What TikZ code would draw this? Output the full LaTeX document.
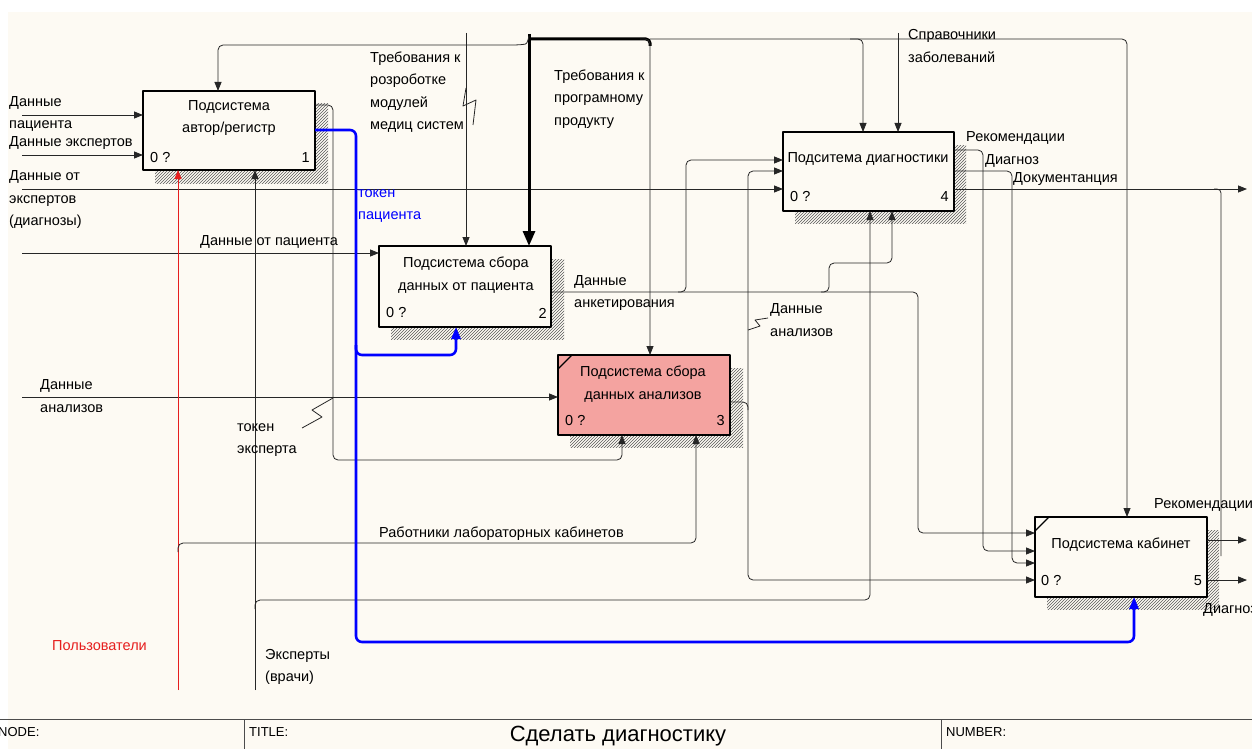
\documentclass[tikz,border=0pt]{standalone}
\usepackage{fontspec}
\setmainfont{Liberation Sans}
\usetikzlibrary{arrows.meta,patterns}
\definecolor{bgc}{RGB}{253,250,243}
\definecolor{pinkc}{RGB}{244,163,160}
\definecolor{bluec}{RGB}{0,0,255}
\definecolor{redc}{RGB}{230,30,30}
\newcommand\labfont{\fontsize{14.5}{22.5}\selectfont}
\newcommand\footfont{\fontsize{13}{15}\selectfont}
\begin{document}
\begin{tikzpicture}[x=1pt,y=-1pt,line join=round,
  ln/.style={line width=0.8pt,draw=black!85},
  arr/.style={-{Triangle[length=9pt,width=7pt]}},
  bluearr/.style={draw=bluec,line width=2.6pt,-{Triangle[length=12pt,width=9pt]},rounded corners=6},
  box/.style={draw=black,line width=1.8pt,fill=bgc,inner sep=0pt,outer sep=0pt,anchor=north west,minimum width=172pt,minimum height=79pt},
  shadow/.style={pattern=north east lines,pattern color=black!65},
  lab/.style={font=\labfont,inner sep=0pt,anchor=west,align=left},
  btxt/.style={font=\labfont,inner sep=0pt,align=center},
  foot/.style={font=\footfont,inner sep=0pt,anchor=west}]
\useasboundingbox (0,0) rectangle (1252,749);
\fill[white] (0,0) rectangle (1252,749);
\fill[bgc] (8,12) rectangle (1252,749);
% shadows
\fill[shadow] (155,104) rectangle (328,183);
\fill[shadow] (391,259) rectangle (564,339);
\fill[shadow] (570,368) rectangle (743,447);
\fill[shadow] (795,145) rectangle (966,223);
\fill[shadow] (1047,530) rectangle (1219,609);
% boxes
\node[box] (b1) at (143,91) {};
\node[box,minimum height=81pt] (b2) at (379,246) {};
\node[box,fill=pinkc,minimum height=80pt] (b3) at (558,355) {};
\node[box,minimum width=171pt] (b4) at (783,132) {};
\node[box,minimum height=80pt] (b5) at (1035,517) {};
\draw[line width=1.2pt] (558,369) -- (572,355);
\draw[line width=1.2pt] (1035,531) -- (1049,517);
% box texts
\node[btxt] (t1) at (229,118) {Подсистема\\автор/регистр};
\node[lab] (n1) at (150,158) {0 ?};
\node[lab,anchor=east] (m1) at (310,158) {1};
\node[btxt] (t2) at (466,275) {Подсистема сбора\\данных от пациента};
\node[lab] (n2) at (386,313) {0 ?};
\node[lab,anchor=east] (m2) at (547,313) {2};
\node[btxt] (t3) at (643,384) {Подсистема сбора\\данных анализов};
\node[lab] (n3) at (565,421) {0 ?};
\node[lab,anchor=east] (m3) at (725,421) {3};
\node[btxt] (t4) at (868,159) {Подситема диагностики};
\node[lab] (n4) at (790,197) {0 ?};
\node[lab,anchor=east] (m4) at (949,197) {4};
\node[btxt] (t5) at (1121,545) {Подсистема кабинет};
\node[lab] (n5) at (1041,581) {0 ?};
\node[lab,anchor=east] (m5) at (1202,581) {5};
% left inputs
\draw[ln,arr] (22,115) -- (143,115);
\draw[ln,arr] (22,155) -- (143,155);
\draw[ln,arr] (22,189) -- (783,189);
\draw[ln,arr] (954,189) -- (1247,189);
\draw[ln,rounded corners=4] (1214,189) -- (1221,189) -- (1221,556);
\draw[ln,arr] (22,253) -- (379,253);
\draw[ln,arr] (22,397) -- (558,397);
% top controls
\draw[line width=3pt,-{Triangle[length=15pt,width=12pt]}] (529,34) -- (529,246);
\draw[line width=3pt,rounded corners=4] (529,39) -- (650,39) -- (650,46);
\draw[ln,arr,rounded corners=5] (640,39) -- (650,39) -- (650,355);
\draw[ln,arr,rounded corners=5] (650,39) -- (1127,39) -- (1127,517);
\draw[ln,arr,rounded corners=5] (850,39) -- (863,39) -- (863,132);
\draw[ln,arr,rounded corners=5] (529,36) .. controls (527,44) .. (518,45) -- (218,45) -- (218,91);
\draw[ln,arr] (466,33) -- (466,246);
\draw[ln,arr] (898,33) -- (898,132);
% mechanisms
\draw[redc,line width=0.8pt,-{Triangle[length=9pt,width=7pt]}] (178,690) -- (178,170);
\draw[ln,arr,rounded corners=5] (178,552) -- (178,543) -- (696,543) -- (696,435);
\draw[ln,arr] (255,690) -- (255,170);
\draw[ln,arr,rounded corners=5] (255,609) -- (255,600) -- (870,600) -- (870,211);
% token expert
\draw[ln,arr,rounded corners=5] (315,105) -- (333,105) -- (333,460) -- (622,460) -- (622,435);
% blue token
\draw[bluearr] (315,130) -- (356,130) -- (356,642) -- (1134,642) -- (1134,597);
\draw[bluearr] (356,345) -- (356,355) -- (456,355) -- (456,327);
% box2 output
\draw[ln,arr,rounded corners=5] (552,292) -- (918,292) -- (918,533) -- (1035,533);
\draw[ln,arr,rounded corners=5] (678,292) -- (686,292) -- (686,160) -- (783,160);
\draw[ln,arr,rounded corners=5] (821,292) -- (829,292) -- (829,263) -- (892,263) -- (892,211);
% box3 output
\draw[ln,{Triangle[length=9pt,width=7pt]}-{Triangle[length=9pt,width=7pt]},rounded corners=5] (783,171) -- (748,171) -- (748,580) -- (1035,580);
\draw[ln,rounded corners=5] (730,402) -- (748,402) -- (748,410);
% box4 outputs
\draw[ln,arr,rounded corners=5] (954,150) -- (983,150) -- (983,551) -- (1035,551);
\draw[ln,arr,rounded corners=5] (954,171) -- (1012,171) -- (1012,563) -- (1035,563);
% box5 outputs
\draw[ln,arr] (1207,540) -- (1247,540);
\draw[ln,arr] (1207,580) -- (1247,580);
% squiggles
\draw[ln] (302,428) -- (322,417) -- (312,410) -- (333,398);
\draw[ln] (768,318) -- (755,320) -- (760,326) -- (748,330);
\draw[ln] (466,88) -- (463,106) -- (476,100) -- (473,125);
% labels
\node[lab] (l1) at (9,114) {Данные\\пациента};
\node[lab] (l2) at (9,143) {Данные экспертов};
\node[lab] (l3) at (9,200) {Данные от\\экспертов\\(диагнозы)};
\node[lab] (l4) at (200,242) {Данные от пациента};
\node[lab] (l5) at (40,396) {Данные\\анализов};
\node[lab] (l6) at (370,92) {Требования к\\розроботке\\модулей\\медиц систем};
\node[lab] (l7) at (554,99) {Требования к\\програмному\\продукту};
\node[lab] (l8) at (908,46) {Справочники\\заболеваний};
\node[lab,text=bluec] (l9) at (358,206) {токен\\пациента};
\node[lab] (l10) at (574,293) {Данные\\анкетирования};
\node[lab] (l11) at (770,320) {Данные\\анализов};
\node[lab] (l12) at (237,440) {токен\\эксперта};
\node[lab] (l13) at (379,534) {Работники лабораторных кабинетов};
\node[lab,text=redc] (l14) at (52,646) {Пользователи};
\node[lab] (l15) at (265,667) {Эксперты\\(врачи)};
\node[lab] (l16) at (966,138) {Рекомендации};
\node[lab] (l17) at (985,161) {Диагноз};
\node[lab] (l18) at (1013,179) {Документанция};
\node[lab] (l19) at (1154,505) {Рекомендации};
\node[lab] (l20) at (1203,610) {Диагноз};
% footer
\draw[line width=0.8pt,black!70] (0,719) -- (1252,719);
\draw[line width=0.8pt,black!70] (244,719) -- (244,749);
\draw[line width=0.8pt,black!70] (941,719) -- (941,749);
\node[foot] (f1) at (-2,732) {NODE:};
\node[foot] (f2) at (249,732) {TITLE:};
\node[font=\fontsize{22}{24}\selectfont,inner sep=0pt] (f3) at (618,736) {Сделать диагностику};
\node[foot] (f4) at (946,732) {NUMBER:};
\end{tikzpicture}
\end{document}
